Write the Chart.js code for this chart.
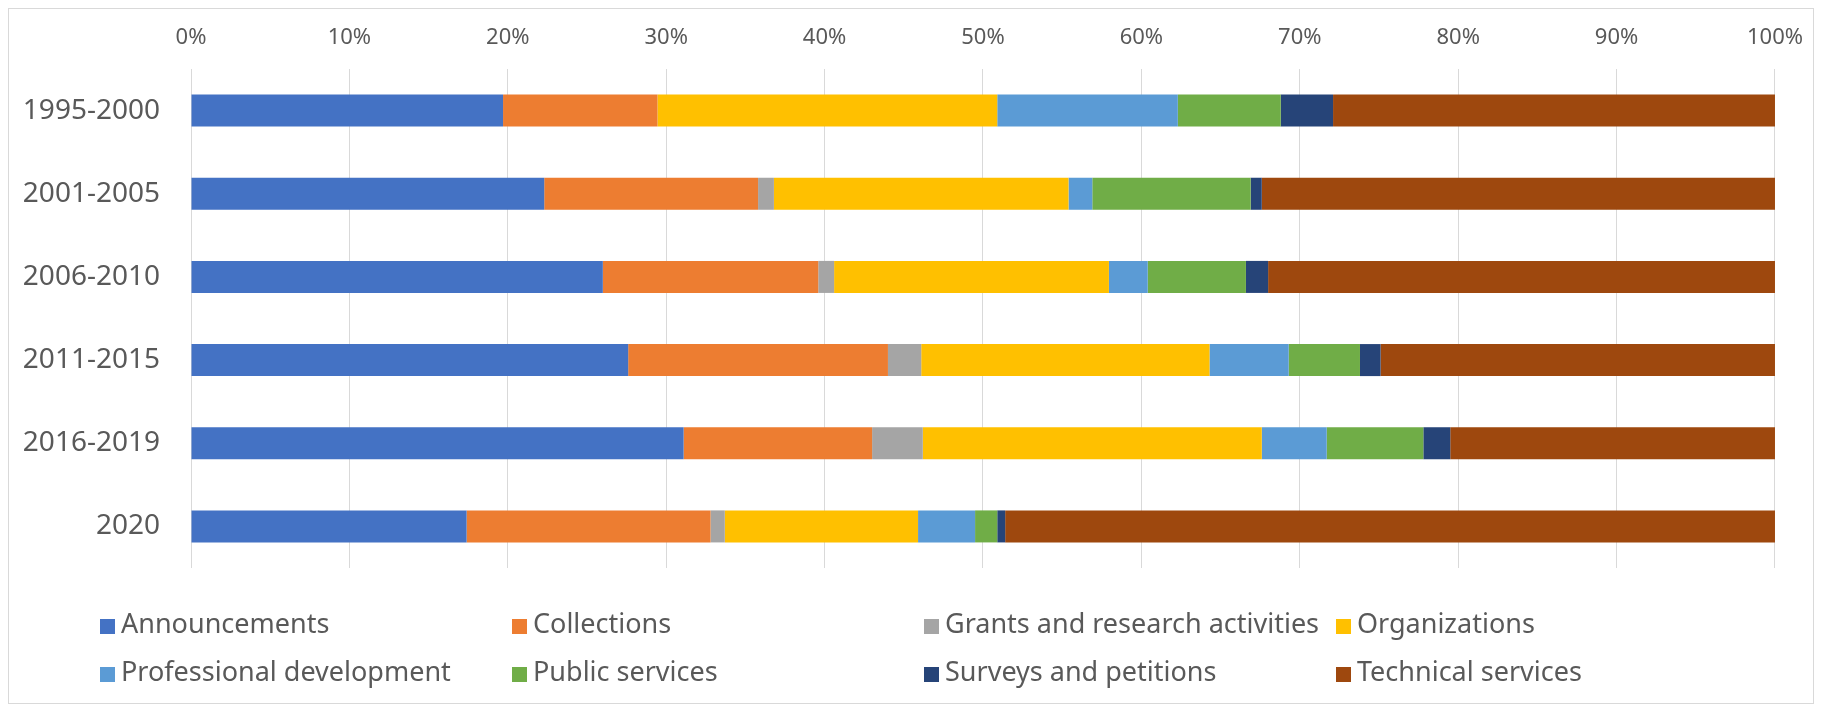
<!DOCTYPE html>
<html lang="en">
<head>
    <meta charset="UTF-8">
    <title>Shares by period</title>
    <script src="https://cdn.jsdelivr.net/npm/chart.js@4"></script>
    <style>
        body { margin: 0; background: #fff; font-family: "Noto Sans", sans-serif; }
        #wrap { position: relative; width: 1821px; height: 710px; }
        #frame { position: absolute; left: 8px; top: 8px; width: 1804px; height: 694px; border: 1px solid #d9d9d9; }
        #chart { position: absolute; left: 0; top: 0; }
        .item { position: absolute; height: 30px; line-height: 30px; font-size: 27px; color: #595959; white-space: nowrap; }
        .item span { display: inline-block; width: 15px; height: 15px; margin-right: 6px; vertical-align: -1px; }
    </style>
</head>
<body>
<div id="wrap">
    <div id="frame"></div>
    <canvas id="chart" width="1821" height="710"></canvas>
    <div id="legend"></div>
</div>

<script>
    // periods and shares (%) per category
    const periods = ["1995-2000", "2001-2005", "2006-2010", "2011-2015", "2016-2019", "2020"];
    const announcements = [19.7, 22.3, 26.0, 27.6, 31.1, 17.4];
    const collections   = [9.75, 13.5, 13.6, 16.4, 11.9, 15.4];
    const grants        = [0, 1.0, 1.0, 2.1, 3.2, 0.9];
    const organizations = [21.45, 18.6, 17.35, 18.2, 21.4, 12.2];
    const profDev       = [11.4, 1.5, 2.45, 5.0, 4.1, 3.6];
    const publicServ    = [6.5, 10.0, 6.2, 4.5, 6.1, 1.4];
    const surveys       = [3.3, 0.7, 1.4, 1.3, 1.7, 0.5];
    const technical     = [27.9, 32.4, 32.0, 24.9, 20.5, 48.6];
    const xTicks = [0, 10, 20, 30, 40, 50, 60, 70, 80, 90, 100];

    const series = [
        ["Announcements", announcements, "#4472C4"],
        ["Collections", collections, "#ED7D31"],
        ["Grants and research activities", grants, "#A5A5A5"],
        ["Organizations", organizations, "#FFC000"],
        ["Professional development", profDev, "#5B9BD5"],
        ["Public services", publicServ, "#70AD47"],
        ["Surveys and petitions", surveys, "#264478"],
        ["Technical services", technical, "#9E480E"]
    ];

    const chart = new Chart(document.getElementById("chart"), {
        type: "bar",
        data: {
            labels: periods,
            datasets: series.map(s => ({
                label: s[0],
                data: s[1],
                backgroundColor: s[2],
                borderWidth: 0,
                barPercentage: 0.385,
                categoryPercentage: 1
            }))
        },
        options: {
            indexAxis: "y",
            responsive: false,
            animation: false,
            layout: { padding: { right: 43, bottom: 142 } },
            plugins: { legend: { display: false }, tooltip: { enabled: false } },
            scales: {
                x: {
                    position: "top",
                    stacked: true,
                    min: 0,
                    max: 100,
                    afterBuildTicks: s => { s.ticks = xTicks.map(v => ({ value: v })); },
                    afterFit: s => { s.height = 69; },
                    grid: { color: "#d9d9d9", drawTicks: false },
                    border: { display: false },
                    ticks: {
                        padding: 18,
                        color: "#595959",
                        font: { family: "Noto Sans", size: 22 },
                        callback: v => v + "%"
                    }
                },
                y: {
                    stacked: true,
                    afterFit: s => { s.width = 191; },
                    grid: { display: false, drawTicks: false },
                    border: { display: false },
                    ticks: {
                        padding: 31,
                        color: "#595959",
                        font: { family: "Noto Sans", size: 28 }
                    }
                }
            }
        }
    });

    // legend in 4 columns, like the original
    const legend = document.getElementById("legend");
    const colX = [100, 512, 924, 1336];
    const rowY = [608, 656];
    chart.data.datasets.forEach((ds, i) => {
        const el = document.createElement("div");
        el.className = "item";
        el.style.left = colX[i % 4] + "px";
        el.style.top = rowY[Math.floor(i / 4)] + "px";
        el.innerHTML = '<span style="background:' + ds.backgroundColor + '"></span>' + ds.label;
        legend.appendChild(el);
    });
</script>
</body>
</html>
